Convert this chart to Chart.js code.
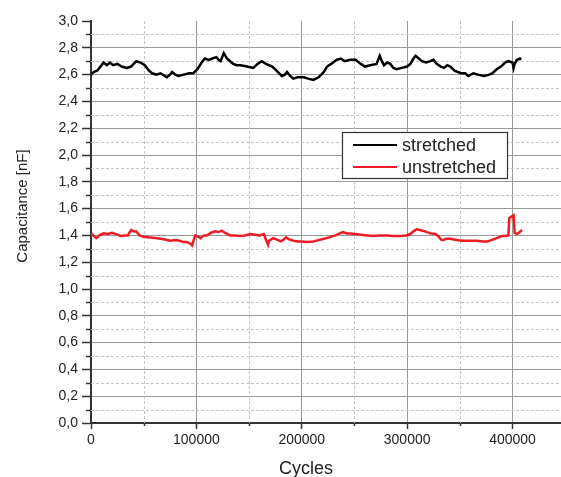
<!DOCTYPE html>
<html>
<head>
<meta charset="utf-8">
<script src="https://cdn.jsdelivr.net/npm/chart.js@4/dist/chart.umd.min.js"></script>
<style>
html,body{margin:0;padding:0;background:#fff;}
canvas{display:block;}
</style>
</head>
<body>
<canvas id="c" width="561" height="477"></canvas>
<script>
// ---- data (cycles, capacitance in nF) ----
const seriesNames = ['stretched', 'unstretched'];
const seriesColors = ['#000000', '#ee1c25'];

const stretchedCycles = [0,3000,6000,9000,12000,15000,18000,21000,25000,29000,34000,38000,43000,47000,51000,55000,58000,62000,66000,70000,72000,75000,77000,80000,83000,88000,93000,97000,101000,105000,108000,112000,115000,119000,121000,123000,126000,129000,132000,135000,138000,142000,148000,154000,158000,162000,166000,172000,176000,181000,184000,186000,189000,192000,196000,202000,206000,211000,216000,221000,224000,228000,233000,237000,241000,246000,251000,256000,260000,265000,271000,274000,276000,278000,281000,284000,287000,290000,295000,300000,303000,306000,308000,311000,314000,318000,322000,325000,328000,332000,335000,338000,341000,345000,351000,355000,358000,363000,367000,373000,378000,381000,385000,389000,393000,396000,400000,401000,402000,404000,407000,408000];
const stretchedValues = [2.60,2.62,2.63,2.66,2.69,2.67,2.69,2.67,2.68,2.66,2.65,2.66,2.70,2.69,2.67,2.63,2.61,2.60,2.61,2.59,2.58,2.60,2.62,2.60,2.59,2.60,2.61,2.61,2.64,2.69,2.72,2.71,2.72,2.73,2.71,2.70,2.76,2.72,2.70,2.68,2.67,2.67,2.66,2.65,2.68,2.70,2.68,2.66,2.63,2.59,2.60,2.62,2.59,2.57,2.58,2.58,2.57,2.56,2.58,2.62,2.66,2.68,2.71,2.72,2.70,2.71,2.71,2.68,2.66,2.67,2.68,2.74,2.70,2.67,2.69,2.68,2.65,2.64,2.65,2.66,2.68,2.72,2.74,2.72,2.70,2.69,2.70,2.71,2.68,2.66,2.65,2.67,2.66,2.63,2.61,2.61,2.59,2.61,2.60,2.59,2.60,2.61,2.64,2.66,2.69,2.70,2.69,2.65,2.68,2.71,2.72,2.71];

const unstretchedCycles = [0,2000,5000,8000,12000,16000,20000,24000,28000,32000,35000,38000,41000,43000,46000,50000,56000,61000,66000,70000,75000,80000,84000,88000,91000,94000,96000,98000,99000,102000,104000,107000,110000,114000,118000,121000,124000,127000,132000,137000,142000,146000,151000,156000,160000,164000,166000,168000,169000,171000,173000,176000,180000,183000,185000,188000,192000,196000,200000,205000,211000,216000,221000,226000,232000,236000,239000,243000,246000,251000,256000,262000,268000,274000,281000,287000,294000,299000,303000,306000,309000,312000,317000,322000,327000,330000,332000,334000,337000,341000,344000,347000,352000,357000,361000,366000,371000,376000,380000,385000,390000,393000,396000,397000,399000,401000,402000,404000,406000,409000];
const unstretchedValues = [1.42,1.40,1.38,1.40,1.415,1.41,1.42,1.41,1.395,1.40,1.40,1.44,1.43,1.43,1.40,1.39,1.385,1.38,1.375,1.37,1.36,1.365,1.36,1.35,1.35,1.34,1.325,1.38,1.40,1.39,1.38,1.40,1.40,1.42,1.43,1.425,1.435,1.42,1.40,1.40,1.395,1.40,1.41,1.405,1.40,1.41,1.37,1.33,1.36,1.37,1.38,1.37,1.355,1.37,1.385,1.37,1.36,1.355,1.355,1.35,1.355,1.365,1.375,1.385,1.40,1.415,1.425,1.415,1.415,1.41,1.405,1.40,1.395,1.40,1.40,1.395,1.395,1.40,1.41,1.43,1.445,1.44,1.43,1.415,1.41,1.39,1.37,1.365,1.375,1.375,1.37,1.365,1.36,1.36,1.36,1.36,1.355,1.355,1.365,1.38,1.395,1.395,1.40,1.53,1.54,1.55,1.42,1.41,1.42,1.44];

const yTickValues = [0,0.2,0.4,0.6,0.8,1.0,1.2,1.4,1.6,1.8,2.0,2.2,2.4,2.6,2.8,3.0];
const yMinorValues = [0.1,0.3,0.5,0.7,0.9,1.1,1.3,1.5,1.7,1.9,2.1,2.3,2.5,2.7,2.9];
const xTickValues = [0,100000,200000,300000,400000];
const xMinorValues = [50000,150000,250000,350000];
const xTitle = 'Cycles';
const yTitle = 'Capacitance [nF]';

const FONT = '"Liberation Sans", Arial, sans-serif';

function pts(xs, ys){ return xs.map((x,i)=>({x:x, y:ys[i]})); }

const decor = {
  id: 'decor',
  beforeDatasetsDraw(chart){
    const c = chart.ctx, a = chart.chartArea;
    const xs = chart.scales.x, ys = chart.scales.y;
    c.save();
    c.strokeStyle = '#c4c4c4';
    c.lineWidth = 1;
    c.setLineDash([3,2]);
    yMinorValues.forEach(v=>{
      const y = Math.round(ys.getPixelForValue(v)) + 0.5;
      c.beginPath(); c.moveTo(a.left, y); c.lineTo(a.right, y); c.stroke();
    });
    xMinorValues.forEach(v=>{
      const x = Math.round(xs.getPixelForValue(v)) + 0.5;
      c.beginPath(); c.moveTo(x, a.top); c.lineTo(x, a.bottom); c.stroke();
    });
    c.setLineDash([]);
    c.strokeStyle = '#333';
    c.lineWidth = 1.5;
    yMinorValues.forEach(v=>{
      const y = Math.round(ys.getPixelForValue(v)) + 0.5;
      c.beginPath(); c.moveTo(a.left - 5, y); c.lineTo(a.left, y); c.stroke();
    });
    xMinorValues.forEach(v=>{
      const x = Math.round(xs.getPixelForValue(v)) + 0.5;
      c.beginPath(); c.moveTo(x, a.bottom); c.lineTo(x, a.bottom + 3); c.stroke();
    });
    c.restore();
  },
  afterDraw(chart){
    const c = chart.ctx;
    c.save();
    // axis titles
    c.fillStyle = '#222';
    c.font = '18px ' + FONT;
    c.textAlign = 'center';
    c.textBaseline = 'alphabetic';
    c.fillText(xTitle, 306, 474);
    c.save();
    c.translate(27, 206);
    c.rotate(-Math.PI/2);
    c.font = '15px ' + FONT;
    c.fillText(yTitle, 0, 0);
    c.restore();
    // legend
    c.fillStyle = '#fff';
    c.fillRect(342, 132, 165, 46);
    c.strokeStyle = '#333';
    c.lineWidth = 1.2;
    c.strokeRect(342.5, 132.5, 165, 46);
    chart.data.datasets.forEach((ds, i)=>{
      const y = 145 + i*22;
      c.strokeStyle = ds.borderColor;
      c.lineWidth = 2;
      c.beginPath(); c.moveTo(353, y); c.lineTo(397, y); c.stroke();
      c.fillStyle = '#222';
      c.font = '18px ' + FONT;
      c.textAlign = 'left';
      c.fillText(ds.label, 402, y + 6);
    });
    c.restore();
  }
};

new Chart(document.getElementById('c'), {
  type: 'line',
  data: {
    datasets: [
      { label: seriesNames[0], data: pts(stretchedCycles, stretchedValues), borderColor: seriesColors[0], borderWidth: 2.5, pointRadius: 0, tension: 0, fill: false },
      { label: seriesNames[1], data: pts(unstretchedCycles, unstretchedValues), borderColor: seriesColors[1], borderWidth: 2.5, pointRadius: 0, tension: 0, fill: false }
    ]
  },
  options: {
    responsive: false,
    animation: false,
    devicePixelRatio: 1,
    layout: { padding: { top: 21, right: 0, left: 0, bottom: 0 } },
    plugins: { legend: { display: false }, tooltip: { enabled: false } },
    scales: {
      x: {
        type: 'linear', min: 0, max: 446000,
        afterBuildTicks(s){ s.ticks = xTickValues.map(v=>({value:v})); },
        afterFit(s){ s.height = 54; },
        ticks: { color: '#222', font: { size: 14, family: FONT }, padding: 3, maxRotation: 0, autoSkip: false,
          callback: v => String(v) },
        grid: { color: '#999', lineWidth: 1, drawTicks: true, tickLength: 6, tickColor: '#333', tickWidth: 1.5 },
        border: { display: true, color: '#333', width: 2 }
      },
      y: {
        type: 'linear', min: 0, max: 3.0,
        afterBuildTicks(s){ s.ticks = yTickValues.map(v=>({value:v})); },
        afterFit(s){ s.width = 91; },
        ticks: { color: '#222', font: { size: 14, family: FONT }, padding: 4, autoSkip: false,
          callback: v => Number(v).toFixed(1).replace('.', ',') },
        grid: { color: ctx => (ctx.tick && ctx.tick.value >= 2.99) ? 'rgba(0,0,0,0)' : '#999',
          lineWidth: 1, drawTicks: true, tickLength: 9, tickColor: '#333', tickWidth: 1.5 },
        border: { display: true, color: '#333', width: 2 }
      }
    }
  },
  plugins: [decor]
});
</script>
</body>
</html>
